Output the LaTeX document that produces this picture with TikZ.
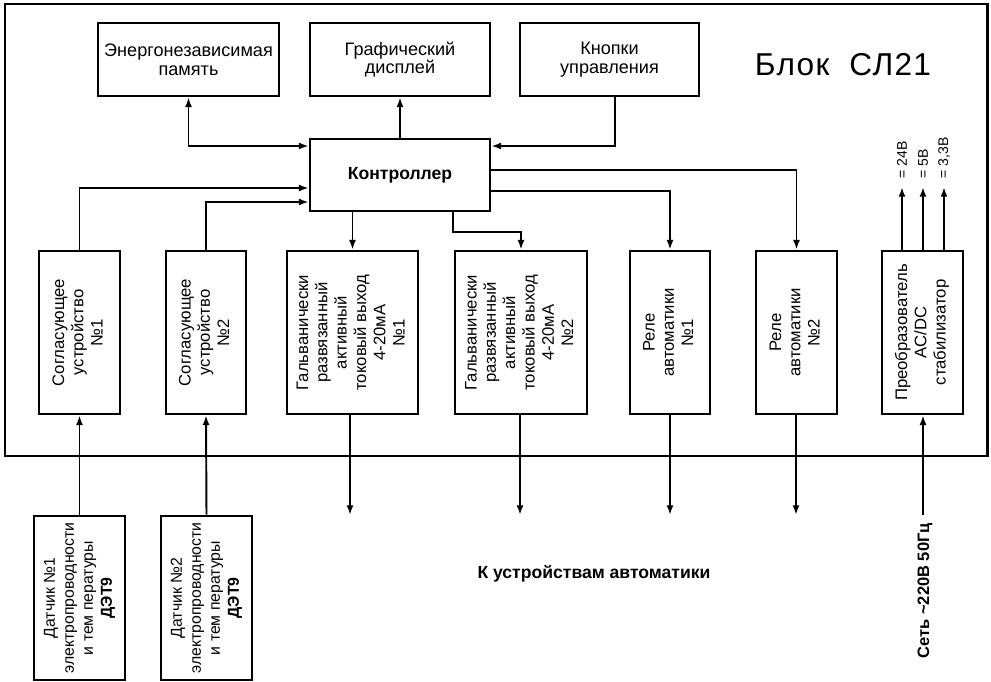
\documentclass[tikz,border=0pt]{standalone}
\usepackage{fontspec}
\setmainfont{Liberation Sans}
\usepackage{graphicx}
\usetikzlibrary{arrows.meta}

% text turned on its side, lines centred
\newcommand{\vtext}[1]{\rotatebox{90}{\begin{tabular}{@{}c@{}}#1\end{tabular}}}

\begin{document}
\begin{tikzpicture}[x=0.02cm, y=-0.02cm,
    >={Latex[length=5.5pt,width=4pt]},
    box/.style={draw, line width=1.6pt, inner sep=0pt, align=center,
        font=\fontsize{10.3}{10.6}\selectfont},
    vbox/.style={draw, line width=1.6pt, inner sep=0pt, minimum height=3.26cm,
        font=\fontsize{9.5}{11}\selectfont},
    sensor/.style={draw, line width=1.6pt, inner sep=0pt, minimum width=1.82cm,
        minimum height=3.28cm, font=\fontsize{9}{10.8}\selectfont},
    link/.style={line width=1.1pt},
    volt/.style={rotate=90, anchor=west, inner sep=1pt, outer sep=4pt,
        font=\fontsize{8}{9}\selectfont}]
        \useasboundingbox (0,0) rectangle (991,682);

        % Block frame
        \draw [line width=1.7pt] (5,4) rectangle (987,456);
        \node [font=\fontsize{18}{20}\selectfont\addfontfeatures{LetterSpace=4}] (title) at (843,65) {Блок\ \ СЛ21};

        % Upper row
        \node [box, minimum width=3.62cm, minimum height=1.46cm] (mem) at (188.5,59.5) {Энергонезависимая\\память};
        \node [box, minimum width=3.60cm, minimum height=1.46cm] (disp) at (400,59.5) {Графический\\дисплей};
        \node [box, minimum width=3.58cm, minimum height=1.46cm] (keys) at (609.5,59.5) {Кнопки\\управления};

        % Controller
        \node [box, minimum width=3.60cm, minimum height=1.44cm, font=\bfseries\fontsize{10}{11}\selectfont] (ctrl) at (400,175) {Контроллер};

        % Lower row
        \node [vbox, minimum width=1.62cm] (sogl1) at (79.5,332.5) {\vtext{Согласующее\\устройство\\№1}};
        \node [vbox, minimum width=1.60cm] (sogl2) at (206,332.5) {\vtext{Согласующее\\устройство\\№2}};
        \node [vbox, minimum width=2.62cm] (galv1) at (352.5,332.5) {\vtext{Гальванически\\развязанный\\активный\\токовый выход\\4-20мА\\№1}};
        \node [vbox, minimum width=2.64cm] (galv2) at (521,332.5) {\vtext{Гальванически\\развязанный\\активный\\токовый выход\\4-20мА\\№2}};
        \node [vbox, minimum width=1.60cm] (rele1) at (670,332.5) {\vtext{Реле\\автоматики\\№1}};
        \node [vbox, minimum width=1.62cm] (rele2) at (796.5,332.5) {\vtext{Реле\\автоматики\\№2}};
        \node [vbox, minimum width=1.62cm] (conv) at (922.5,332.5) {\vtext{Преобразователь\\AC/DC\\стабилизатор}};

        % Sensors
        \node [sensor] (sens1) at (79.5,598) {\vtext{Датчик №1\\электропроводности\\и тем пературы\\\textbf{ДЭТ9}}};
        \node [sensor] (sens2) at (206.5,598) {\vtext{Датчик №2\\электропроводности\\и тем пературы\\\textbf{ДЭТ9}}};

        % Controller links
        \draw [link, <->] (mem.south) |- (ctrl.west |- 0,146);
        \draw [link, ->] (ctrl.north) -- (disp.south);
        \draw [link, ->] (keys.south -| 615,0) |- (ctrl.east |- 0,146);
        \draw [link, ->] (sogl1.north) |- (ctrl.west |- 0,188);
        \draw [link, ->] (sogl2.north) |- (ctrl.west |- 0,202);
        \draw [link, ->] (ctrl.south -| galv1.north) -- (galv1.north);
        \draw [link, ->] (ctrl.south -| 453,0) |- (galv2.north |- 0,232) -- (galv2.north);
        \draw [link, ->] (ctrl.east |- 0,191) -| (rele1.north);
        \draw [link, ->] (ctrl.east |- 0,170) -| (rele2.north);

        % Sensor inputs
        \draw [link, ->] (sens1.north) -- (sogl1.south);
        \draw [link, ->] (sens2.north) -- (sogl2.south);

        % Outputs
        \foreach \b/\x in {galv1/350, galv2/520, rele1/670, rele2/796}
            \draw [link, ->] (\b.south -| \x,0) -- (\x,515);
        \node [font=\bfseries\fontsize{10}{12}\selectfont] (auto) at (594,574) {К устройствам автоматики};

        % Power supply
        \foreach \x/\v/\n in {902/24/u24, 923/5/u5, 944/{3,3}/u33}
            \draw [link, ->] (conv.north -| \x,0) -- (\x,187) node [volt] (\n) {= \v В};
        \coordinate (mains) at (923,515);
        \draw [link, ->] (mains) -- (conv.south -| mains);
        \node [rotate=90, anchor=east, inner sep=1pt, font=\bfseries\fontsize{9.4}{11}\selectfont] (net) at (925,521) {Сеть \textasciitilde220В 50Гц};
\end{tikzpicture}
\end{document}
